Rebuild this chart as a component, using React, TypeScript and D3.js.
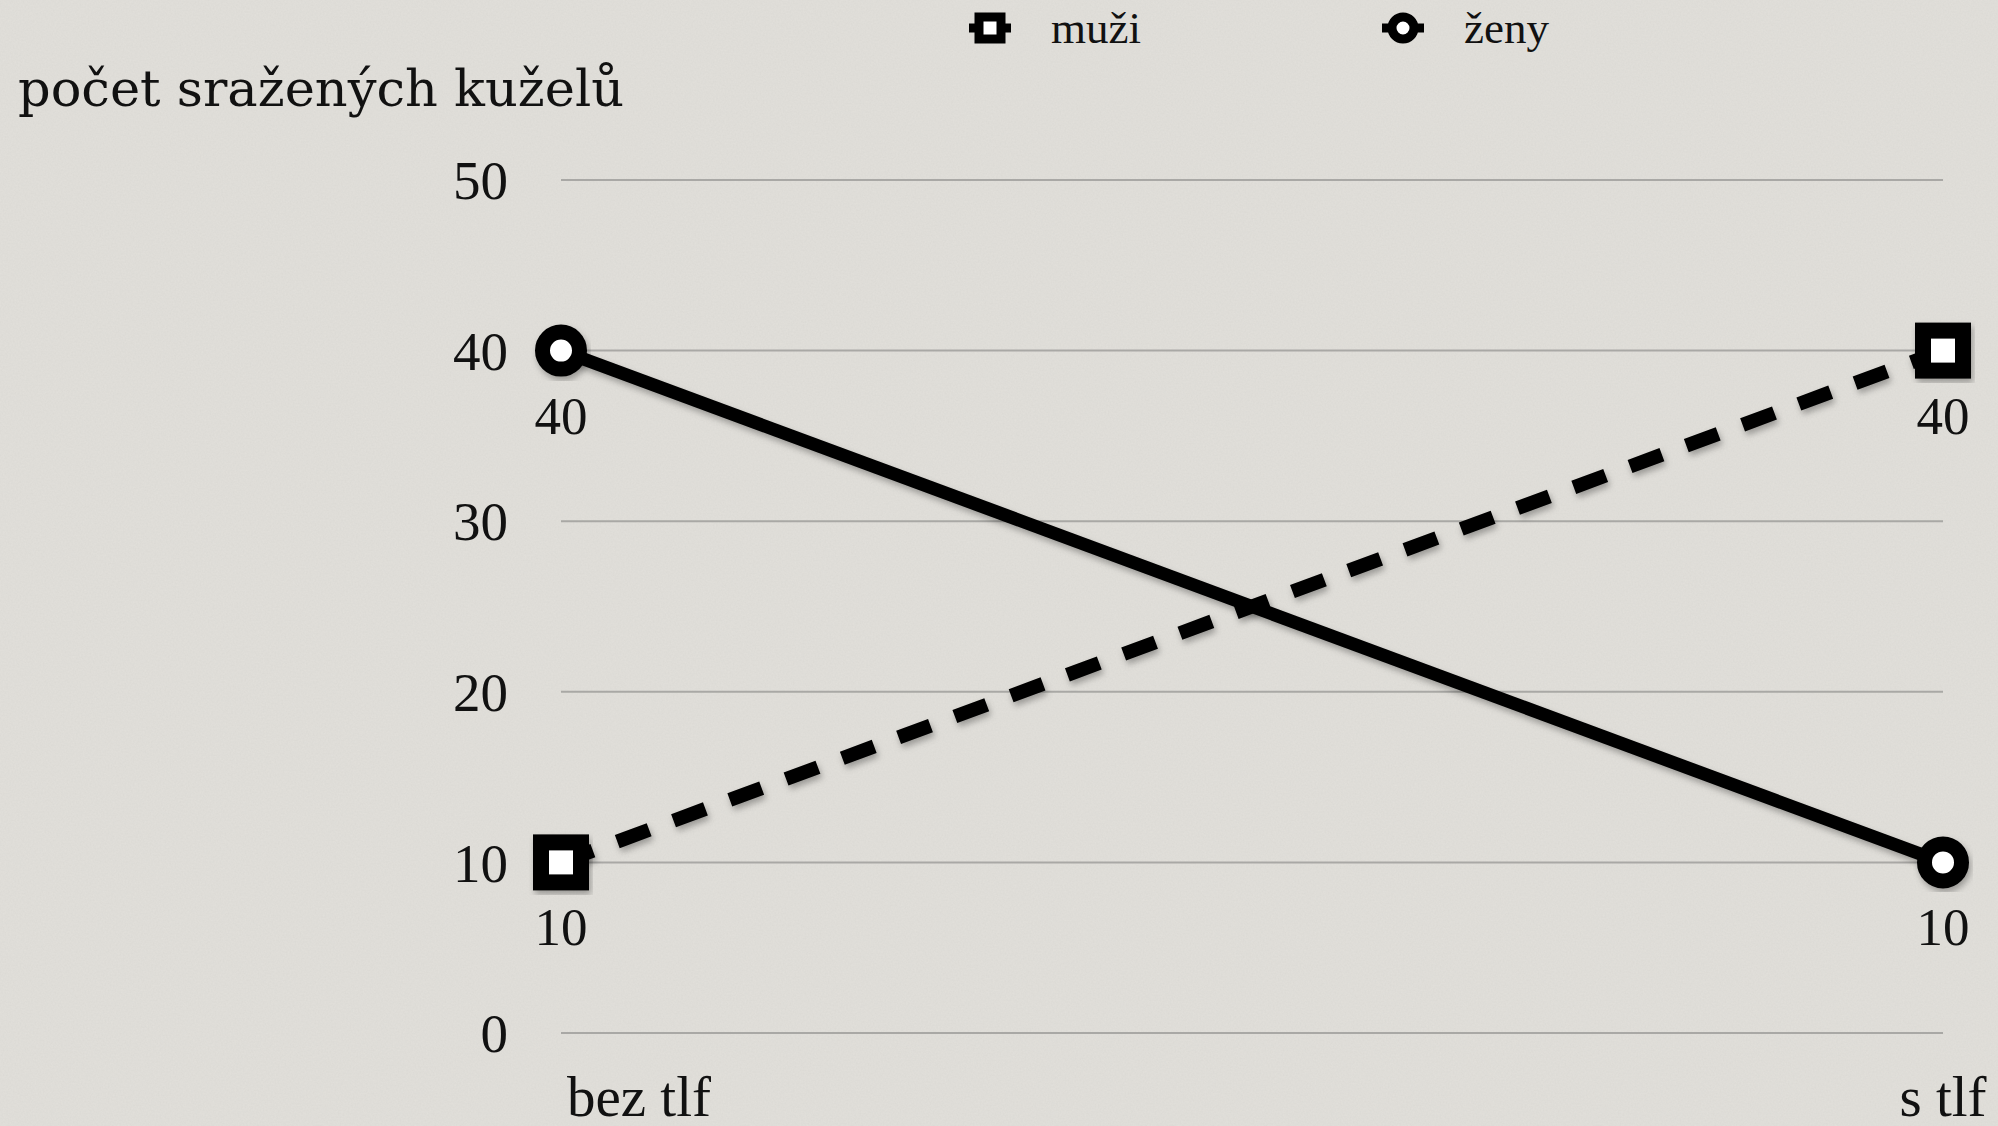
import * as d3 from 'd3';

const categories = ['bez tlf', 's tlf'];
const seriesNames = ['muži', 'ženy'];
const muzi = [10, 40];
const zeny = [40, 10];
const yTicks = [0, 10, 20, 30, 40, 50];
const yTitle = 'počet sražených kuželů';

const width = 1998;
const height = 1126;
const margins = { top: 180, bottom: 93, left: 561, right: 55 };

export default function App() {
    const xScale = d3
        .scalePoint<string>()
        .domain(categories)
        .range([margins.left, width - margins.right]);

    const yScale = d3
        .scaleLinear()
        .domain([0, 50])
        .range([height - margins.bottom, margins.top]);

    const line = d3
        .line<number>()
        .x((_, i) => xScale(categories[i]) as number)
        .y((d) => yScale(d));

    const serif = '"Liberation Serif", "Times New Roman", serif';

    const square = (cx: number, cy: number, key: string) => (
        <rect key={key} x={cx - 20} y={cy - 20} width={40} height={40} fill='#fff' stroke='#000' strokeWidth={16} filter='url(#shadow)' />
    );
    const circle = (cx: number, cy: number, key: string) => (
        <circle key={key} cx={cx} cy={cy} r={18.5} fill='#fff' stroke='#000' strokeWidth={15} filter='url(#shadow)' />
    );

    return (
        <div style={{ position: 'fixed', left: 0, top: 0 }}>
            <svg width={width} height={height} viewBox={`0 0 ${width} ${height}`} style={{ display: 'block' }}>
                <defs>
                    <filter id='shadow' x='-30%' y='-30%' width='160%' height='160%'>
                        <feDropShadow dx='2' dy='4' stdDeviation='3' floodColor='#000' floodOpacity='0.3' />
                    </filter>
                    <filter id='paper' x='0' y='0' width='100%' height='100%'>
                        <feTurbulence type='fractalNoise' baseFrequency='0.6' numOctaves='2' seed='3' />
                        <feColorMatrix type='matrix' values='0 0 0 0 0.4  0 0 0 0 0.4  0 0 0 0 0.38  0 0 0 0.35 0' />
                    </filter>
                </defs>
                <rect width={width} height={height} fill='#e2e0db' />
                <rect width={width} height={height} filter='url(#paper)' opacity={0.35} />

                {/* gridlines + y tick labels */}
                {yTicks.map((t) => (
                    <g key={t} transform={`translate(0, ${yScale(t)})`}>
                        <line x1={margins.left} x2={width - margins.right} stroke='#a9a8a5' strokeWidth={2} />
                        <text x={508} dy='0.35em' textAnchor='end' fontFamily={serif} fontSize={55} fill='#111'>
                            {t}
                        </text>
                    </g>
                ))}

                {/* y title */}
                <text x={18} y={106} fontFamily='"DejaVu Serif", serif' fontSize={51} fill='#111'>
                    {yTitle}
                </text>

                {/* category labels */}
                {categories.map((c, i) => (
                    <text
                        key={c}
                        x={i === 0 ? (xScale(c) as number) + 6 : (xScale(c) as number)}
                        y={1116}
                        textAnchor={i === 0 ? 'start' : 'middle'}
                        fontFamily={serif}
                        fontSize={57}
                        fill='#111'
                    >
                        {c}
                    </text>
                ))}

                {/* lines */}
                <path d={line(muzi) as string} fill='none' stroke='#000' strokeWidth={14} strokeDasharray='34,26' filter='url(#shadow)' />
                <path d={line(zeny) as string} fill='none' stroke='#000' strokeWidth={13} filter='url(#shadow)' />

                {/* markers */}
                {muzi.map((v, i) => square(xScale(categories[i]) as number, yScale(v), 'm' + i))}
                {zeny.map((v, i) => circle(xScale(categories[i]) as number, yScale(v), 'z' + i))}

                {/* data labels */}
                {[...muzi, ...zeny].map((v, i) => {
                    const ci = i % 2;
                    return (
                        <text
                            key={'l' + i}
                            x={xScale(categories[ci]) as number}
                            y={yScale(v) + 83}
                            textAnchor='middle'
                            fontFamily={serif}
                            fontSize={53}
                            fill='#111'
                        >
                            {v}
                        </text>
                    );
                })}

                {/* legend */}
                {seriesNames.map((name, i) => {
                    const lx = i === 0 ? 990 : 1403;
                    return (
                        <g key={name} transform={`translate(${lx}, 28)`}>
                            <line x1={-21} x2={21} stroke='#000' strokeWidth={9} />
                            {i === 0 ? (
                                <rect x={-11} y={-11} width={22} height={22} fill='#fff' stroke='#000' strokeWidth={9} />
                            ) : (
                                <circle r={11} fill='#fff' stroke='#000' strokeWidth={9} />
                            )}
                            <text x={61} y={15} fontFamily={serif} fontSize={45} fill='#111'>
                                {name}
                            </text>
                        </g>
                    );
                })}
            </svg>
        </div>
    );
}
